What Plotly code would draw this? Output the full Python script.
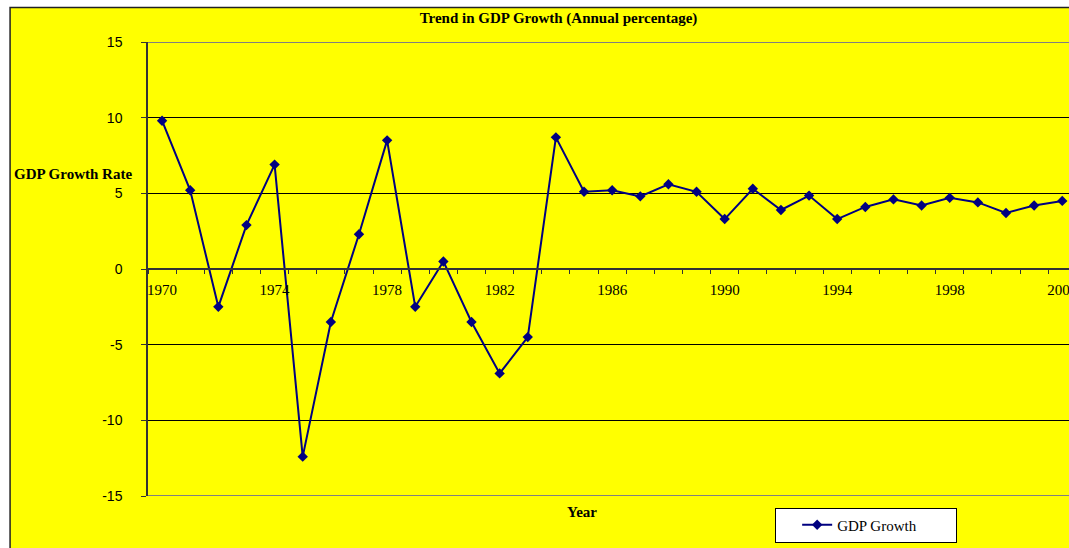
import plotly.graph_objects as go

years = list(range(1970, 2003))
gdp_growth = [9.8, 5.2, -2.5, 2.9, 6.9, -12.4, -3.5, 2.3, 8.5, -2.5,
              0.5, -3.5, -6.9, -4.5, 8.7, 5.1, 5.2, 4.8, 5.6, 5.1,
              3.3, 5.3, 3.9, 4.85, 3.3, 4.1, 4.6, 4.2, 4.7, 4.4,
              3.7, 4.2, 4.5]
label_years = list(range(1970, 2003, 4))
y_ticks = [-15, -10, -5, 0, 5, 10, 15]
y_tick_text = ["-15", "-10", "-5", "0", "5", "10", "15"]

W, H = 1069, 548
L, R, T, B = 147.5, 0, 42, 52
pw = W - L - R
ph = H - T - B

def px_x(p):
    return (p - L) / pw

def px_y(p):
    return (H - B - p) / ph

serif = "Liberation Serif, Times New Roman, serif"
sans = "Liberation Sans, Arial, sans-serif"
navy = "#000080"

fig = go.Figure()
fig.add_trace(go.Scatter(
    x=years, y=gdp_growth, mode="lines+markers", name="GDP Growth",
    line=dict(color=navy, width=2),
    marker=dict(symbol="diamond", size=8, color=navy),
))

fig.update_layout(
    width=W, height=H,
    margin=dict(l=L, r=R, t=T, b=B, pad=0, autoexpand=False),
    paper_bgcolor="white",
    plot_bgcolor="#FFFF00",
    title=dict(text="<b>Trend in GDP Growth (Annual percentage)</b>",
               x=558.5 / W, xanchor="center", y=1 - 18 / H, yanchor="middle",
               font=dict(family=serif, size=15, color="black")),
    showlegend=True,
    legend=dict(x=px_x(775), xanchor="left", y=px_y(525), yanchor="middle",
                bgcolor="white", bordercolor="black", borderwidth=1,
                orientation="h", entrywidth=114, entrywidthmode="pixels",
                indentation=21,
                font=dict(family=serif, size=15, color="black")),
    xaxis=dict(
        range=[1969.5, 2002.24], anchor="free", position=0.5,
        tickmode="array", tickvals=label_years, ticktext=[str(y) for y in label_years],
        ticks="", showgrid=False, zeroline=False, automargin=False,
        showline=True, linecolor="#333333", linewidth=1.5,
        tickfont=dict(family=serif, size=15, color="black"),
        ticklabelstandoff=7, ticklabeloverflow="allow",
        minor=dict(ticks="outside", ticklen=4, tickwidth=1, tickcolor="#333333",
                   tick0=1969.5, dtick=1, showgrid=False),
    ),
    yaxis=dict(
        range=[-15, 15], tickmode="array", tickvals=y_ticks, ticktext=y_tick_text,
        ticks="outside", ticklen=5, tickwidth=1, tickcolor="#333333",
        showline=True, linecolor="#333333", linewidth=1.5,
        showgrid=True, gridcolor="black", gridwidth=1, zeroline=False,
        automargin=False,
        tickfont=dict(family=sans, size=14, color="black"),
        ticklabelstandoff=16,
    ),
    shapes=[
        dict(type="rect", xref="paper", yref="paper", layer="below",
             x0=px_x(9.5), x1=1.2, y0=px_y(570), y1=px_y(7.5),
             fillcolor="#FFFF00", line=dict(color="#222222", width=1.5)),
        dict(type="line", xref="paper", yref="y", x0=0, x1=1, y0=15, y1=15,
             line=dict(color="#808080", width=2), layer="above"),
        dict(type="line", xref="paper", yref="y", x0=0, x1=1, y0=-15, y1=-15,
             line=dict(color="#808080", width=2), layer="above"),
    ],
    annotations=[
        dict(text="<b>GDP Growth Rate</b>", xref="paper", yref="paper",
             x=px_x(11.7), xanchor="left", y=px_y(174), yanchor="middle",
             showarrow=False, font=dict(family=serif, size=15, color="black")),
        dict(text="<b>Year</b>", xref="paper", yref="paper",
             x=px_x(581.5), xanchor="center", y=px_y(512), yanchor="middle",
             showarrow=False, font=dict(family=serif, size=15, color="black")),
    ],
)

fig.write_html(
    "out.html",
    config={"displayModeBar": False},
    post_script="document.body.style.margin='0';document.body.style.overflow='hidden';",
)
